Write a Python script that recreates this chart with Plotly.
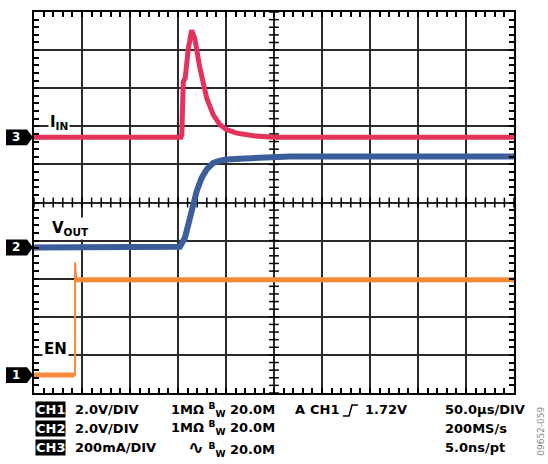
import numpy as np
import plotly.graph_objects as go

# ---- data (in screen divisions: x 0-10 div @ 50us/div, y 0-10 div) ----
ch3_t = [0, 3.06, 3.08, 3.11, 3.15, 3.215, 3.285, 3.35, 3.458, 3.598, 3.735, 3.875, 4.014, 4.223, 4.57, 4.99, 10]
ch3_iin = [6.71, 6.71, 6.78, 8.17, 8.26, 9.04, 9.52, 9.30, 8.52, 7.74, 7.30, 7.04, 6.91, 6.82, 6.75, 6.71, 6.71]

ch2_t = [0, 3.04, 3.146, 3.25, 3.32, 3.39, 3.494, 3.598, 3.735, 3.875, 4.01, 4.29, 4.71, 5.33, 10]
ch2_vout = [3.82, 3.84, 4.08, 4.52, 4.95, 5.30, 5.65, 5.87, 6.04, 6.10, 6.13, 6.15, 6.19, 6.21, 6.21]

ch1_t = [0, 0.84, None, 0.87, 10]
ch1_en = [0.47, 0.47, None, 2.97, 2.97]
ch1_edge_t = [0.84, 0.855, 0.855, 0.88]
ch1_edge_en = [0.47, 0.47, 3.43, 2.97]

markers = [("3", 6.71), ("2", 3.82), ("1", 0.47)]

RED = "#E3335B"
BLUE = "#3B5D9B"
ORANGE = "#F7893B"

W, H = 548, 464
L, R, T, B = 34, 34, 10, 71
PW, PH = W - L - R, H - T - B


def px(x):
    return (x - L) / PW


def py(y):
    return (H - B - y) / PH


fig = go.Figure()

# centre graticule ticks
cen = np.round(np.arange(0, 10.001, 0.2), 2)
fig.add_trace(go.Scatter(x=[5] * len(cen), y=cen, mode="markers", hoverinfo="skip",
                         marker=dict(symbol="line-ew", size=7, line=dict(width=1.5, color="black"))))
fig.add_trace(go.Scatter(x=cen, y=[5] * len(cen), mode="markers", hoverinfo="skip",
                         marker=dict(symbol="line-ns", size=7, line=dict(width=1.5, color="black"))))

fig.add_trace(go.Scatter(x=ch3_t, y=ch3_iin, mode="lines", line=dict(color=RED, width=5)))
fig.add_trace(go.Scatter(x=ch2_t, y=ch2_vout, mode="lines", line=dict(color=BLUE, width=6)))
fig.add_trace(go.Scatter(x=ch1_t, y=ch1_en, mode="lines", line=dict(color=ORANGE, width=5)))
fig.add_trace(go.Scatter(x=ch1_edge_t, y=ch1_edge_en, mode="lines", line=dict(color=ORANGE, width=2)))

axis_common = dict(range=[0, 10], dtick=1, showgrid=True, gridcolor="#2a2a2a", gridwidth=1.5,
                   zeroline=False, showline=True, linecolor="black", linewidth=2, mirror="ticks",
                   ticks="inside", ticklen=5, tickcolor="black", tickwidth=1.5, showticklabels=False,
                   minor=dict(dtick=0.2, ticks="inside", ticklen=5, tickcolor="black", tickwidth=1.5,
                              showgrid=False))

shapes = []
annotations = []
FONT = "DejaVu Sans"

# channel markers
for lab, lev in markers:
    yc = PH * (1 - lev / 10) + T
    path = "M {} {} L {} {} L {} {} L {} {} L {} {} Z".format(
        px(6), py(yc - 8), px(27), py(yc - 8), px(33), py(yc), px(27), py(yc + 8), px(6), py(yc + 8))
    shapes.append(dict(type="path", xref="paper", yref="paper", path=path,
                       fillcolor="black", line=dict(width=0)))
    annotations.append(dict(x=px(16), y=py(yc), xref="paper", yref="paper", text="<b>%s</b>" % lab,
                            showarrow=False, font=dict(family=FONT, size=12, color="white"),
                            xanchor="center", yanchor="middle"))

# trace labels
for txt, x0, y0 in [("<b>I<sub>IN</sub></b>", 59, 121), ("<b>V<sub>OUT</sub></b>", 70, 228),
                    ("<b>EN</b>", 55, 349)]:
    annotations.append(dict(x=px(x0), y=py(y0), xref="paper", yref="paper", text=txt, showarrow=False,
                            font=dict(family=FONT, size=15, color="black"), bgcolor="white",
                            borderpad=1, xanchor="center", yanchor="middle"))

# bottom status text
rows = [410, 428.5, 447.5]
ch_labels = ["CH1", "CH2", "CH3"]
scales = ["2.0V/DIV", "2.0V/DIV", "200mA/DIV"]
couplings = ["1MΩ <sup>B</sup><sub>W</sub> 20.0M", "1MΩ <sup>B</sup><sub>W</sub> 20.0M",
             "<span style='font-size:19px'>∿</span> <sup>B</sup><sub>W</sub> 20.0M"]
timebase = ["50.0µs/DIV", "200MS/s", "5.0ns/pt"]

tf = dict(family=FONT, size=13, color="black")
for i, yy in enumerate(rows):
    annotations.append(dict(x=px(35), y=py(yy), xref="paper", yref="paper",
                            text="<b>%s</b>" % ch_labels[i], showarrow=False,
                            font=dict(family=FONT, size=13, color="white"), bgcolor="black",
                            borderpad=0, xanchor="left", yanchor="middle"))
    annotations.append(dict(x=px(73), y=py(yy), xref="paper", yref="paper",
                            text="<b>%s</b>" % scales[i], showarrow=False, font=tf,
                            xanchor="left", yanchor="middle"))
    annotations.append(dict(x=px(277), y=py(yy), xref="paper", yref="paper",
                            text="<b>%s</b>" % couplings[i], showarrow=False, font=tf,
                            xanchor="right", yanchor="middle"))
    annotations.append(dict(x=px(443), y=py(yy), xref="paper", yref="paper",
                            text="<b>%s</b>" % timebase[i], showarrow=False, font=tf,
                            xanchor="left", yanchor="middle"))

for txt, x0 in [("A", 293), ("CH1", 308), ("1.72V", 363)]:
    annotations.append(dict(x=px(x0), y=py(rows[0]), xref="paper", yref="paper",
                            text="<b>%s</b>" % txt, showarrow=False, font=tf,
                            xanchor="left", yanchor="middle"))

trig = "M {} {} L {} {} L {} {} L {} {}".format(px(343), py(416), px(349), py(416),
                                                 px(352), py(405), px(358), py(405))
shapes.append(dict(type="path", xref="paper", yref="paper", path=trig,
                   line=dict(color="black", width=1.5)))

annotations.append(dict(x=px(541), y=py(432), xref="paper", yref="paper", text="09652-059",
                        showarrow=False, textangle=-90, font=dict(family=FONT, size=9, color="#888888"),
                        xanchor="center", yanchor="middle"))

fig.update_layout(width=W, height=H, margin=dict(l=L, r=R, t=T, b=B, pad=0),
                  paper_bgcolor="white", plot_bgcolor="white", showlegend=False,
                  xaxis=axis_common, yaxis=axis_common, shapes=shapes, annotations=annotations)

fig.write_html("out.html", config={"displayModeBar": False},
               post_script="document.body.style.margin='0';document.body.style.overflow='hidden';")
